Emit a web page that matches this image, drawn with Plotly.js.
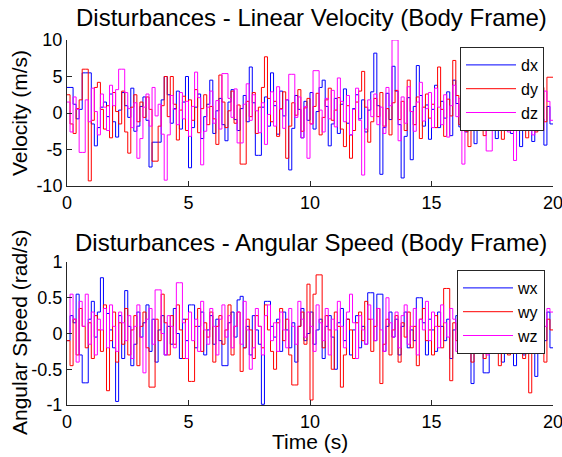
<!DOCTYPE html>
<html>
<head>
<meta charset="utf-8">
<script src="https://cdn.plot.ly/plotly-3.0.1.min.js"></script>
<style>html,body{margin:0;padding:0;background:#fff;}#plot{width:562px;height:457px;}</style>
</head>
<body>
<div id="plot"></div>
<script>
// sample period of the step disturbances (s)
const dt = 0.125;

// Linear velocity disturbances (m/s)
const dx = [3.5,3.5,1.2,-0.8,0.5,5.5,5.5,5.5,-1.5,-4.5,
-2.0,0.8,1.5,-0.5,2.6,-1.2,-3.3,0.4,2.8,1.0,
-0.6,3.4,-2.5,-1.8,0.9,2.2,-1.0,-7.4,-4.0,-4.0,
-4.0,1.8,5.0,2.5,-1.4,0.6,3.0,-2.2,1.5,5.0,
-7.5,-2.0,0.8,2.6,-3.5,-0.5,1.2,4.5,-2.8,0.3,
2.0,-1.6,-3.8,1.5,3.2,-0.9,-2.4,0.6,2.4,-1.2,
6.3,1.4,-5.8,-5.8,0.8,2.2,-1.8,5.5,1.0,-2.9,
3.0,-0.4,1.8,-7.8,-2.1,2.4,0.5,-3.4,1.6,-1.0,
2.8,-2.2,0.2,3.5,4.5,0.9,-4.5,-1.5,2.0,-2.8,
1.2,3.3,-1.4,-3.0,0.6,2.5,-0.8,1.8,-2.6,0.4,
2.9,8.2,1.0,-8.4,-2.0,2.7,-0.9,6.4,3.0,-1.6,
-8.9,-3.2,2.1,-6.4,0.9,6.5,2.4,-1.8,1.1,-3.6,
0.5,3.8,-2.0,1.6,-0.7,2.9,-3.1,4.5,1.3,-1.9,
3.1,-2.6,0.2,2.2,-4.2,1.4,-0.6,3.6,-2.3,0.8,
2.0,-3.5,-1.1,1.9,3.4,-0.4,-2.8,1.0,2.6,-4.6,
0.3,3.2,-1.7,-3.9,1.5,2.4,-0.8,-4.4,0.9,-1.5];

const dy = [2.5,-1.5,-2.8,0.6,1.8,6.0,6.0,-9.3,-1.0,3.5,
4.2,0.5,-2.2,1.0,-3.4,2.8,0.2,-1.5,3.0,-2.6,
-5.5,0.8,2.5,-1.2,1.5,-0.6,2.2,0.5,-6.6,-6.6,
-1.8,1.0,5.0,-0.5,5.0,1.2,-3.7,0.4,2.3,-2.4,
1.8,-1.0,3.2,-2.7,0.6,2.5,-1.6,0.9,-0.8,-4.3,
5.2,1.5,-2.0,0.3,3.0,-1.4,1.1,-7.0,-7.0,1.6,
-0.5,2.8,-2.8,0.8,3.5,7.7,2.0,-1.2,1.6,-3.2,
0.6,2.9,-6.2,-1.8,1.4,-0.3,3.2,-2.5,0.7,2.0,
-1.5,0.9,2.7,-3.0,-0.6,1.8,3.4,-1.0,0.4,2.1,
-2.2,-4.6,1.0,-6.2,-2.4,1.5,3.0,5.7,0.8,-4.0,
-1.2,2.0,-0.5,2.8,-1.8,0.6,-3.0,1.4,3.1,-0.9,
1.6,-2.4,4.5,0.2,-1.6,2.2,-3.5,0.8,2.6,-0.7,
1.2,-2.0,6.3,0.5,-3.2,1.9,-0.4,7.2,2.4,-1.6,
0.9,-2.5,-4.6,1.3,3.6,-0.9,2.0,-3.1,0.4,1.7,
-1.8,3.0,-0.6,-3.6,1.1,2.5,-2.0,0.6,3.3,-1.4,
0.3,-3.4,2.2,1.0,-2.6,0.7,3.5,-1.2,4.9,4.9];

const dz = [1.5,-2.6,2.2,0.5,-5.4,-5.4,1.8,-1.2,3.4,0.2,
-3.0,2.6,0.8,-2.4,3.8,1.0,3.2,6.0,6.0,2.8,
0.6,-2.0,1.4,-6.2,-3.5,0.8,2.6,-1.8,3.5,-0.4,
1.2,-2.9,-9.2,-3.0,2.4,0.5,-1.6,2.8,-0.8,1.6,
-3.2,0.9,5.6,2.1,-7.1,-2.5,0.8,3.0,-1.4,1.7,
-2.2,5.4,5.4,2.0,-0.6,3.3,-4.1,-4.1,1.2,4.0,
-1.0,2.5,0.3,-2.7,1.4,-4.3,-0.2,2.9,-1.8,3.6,
0.5,-2.1,1.8,5.3,5.3,-0.6,2.2,-3.4,0.9,-6.2,
-1.5,5.8,5.8,0.4,-2.6,2.0,-0.8,3.1,-1.9,4.8,
1.6,-1.2,2.4,-3.0,0.5,3.4,-1.0,-8.5,-2.2,1.8,
-0.5,2.6,-1.6,0.8,-2.8,3.5,1.0,10.0,10.0,-3.8,
2.2,-1.4,3.6,0.2,-2.5,1.5,4.2,-1.1,0.6,2.8,
-2.0,3.4,0.8,-1.6,2.5,-3.3,1.0,3.8,-0.5,2.0,
-7.0,-1.2,2.6,0.4,3.2,-2.2,1.4,-0.9,-5.2,-5.2,
1.8,3.5,-1.4,0.6,2.9,-2.6,0.9,-6.5,-1.0,2.4,
3.8,-0.8,1.2,-3.0,2.1,0.5,-2.4,3.0,1.6,-1.0];

// Angular speed disturbances (rad/s)
const wx = [-0.1,0.25,0.15,0.55,-0.3,-0.69,-0.69,0.2,0.45,-0.05,
0.3,0.78,0.35,0.28,0.05,-0.2,-0.95,0.25,-0.35,0.6,
0.1,-0.45,-0.15,0.3,-0.05,0.15,0.4,-0.25,0.2,-0.4,
0.05,0.25,-0.3,0.1,-0.15,0.35,0.0,-0.35,0.2,-0.1,
0.4,0.4,-0.2,0.1,0.3,-0.3,0.05,0.25,-0.15,0.2,
-0.1,-0.45,-0.45,0.15,0.3,-0.05,0.47,0.52,-0.2,0.1,
-0.3,0.25,0.05,-0.15,-0.99,0.45,0.45,0.1,-0.05,0.2,
-0.25,0.3,0.05,-0.2,0.15,-0.4,0.1,0.35,-0.1,0.0,
0.3,-0.15,0.05,0.2,-0.35,0.1,0.25,-0.05,-0.5,0.15,
0.35,-0.1,0.2,-0.3,0.05,0.25,-0.2,0.1,-0.15,0.57,
0.57,-0.1,0.55,0.55,-0.25,0.1,0.3,-0.05,0.2,-0.3,
0.1,0.3,-0.2,0.05,-0.1,0.5,0.5,0.15,-0.3,0.2,
0.05,-0.25,0.3,0.1,-0.1,0.2,-0.35,0.05,0.25,-0.15,
0.1,0.3,-0.05,-0.7,-0.2,0.15,0.0,-0.55,-0.55,0.2,
0.05,0.25,-0.2,-0.4,0.1,0.3,-0.1,-0.45,0.05,0.2,
-0.3,0.15,0.35,-0.05,-0.6,-0.15,0.2,-0.1,0.3,-0.2];

const wy = [-0.1,-0.45,0.2,-0.3,0.35,0.1,-0.2,0.15,-0.35,0.25,
0.05,-0.25,0.4,-0.8,-0.1,0.3,-0.4,0.15,-0.15,0.35,
-0.3,0.05,0.25,-0.45,0.1,0.3,-0.2,-0.75,-0.75,0.2,
-0.1,0.55,0.15,-0.3,0.25,-0.15,0.4,0.05,-0.35,0.2,
-0.67,-0.67,0.1,0.35,-0.25,0.15,-0.05,0.3,-0.4,0.1,
0.25,-0.15,0.05,0.4,-0.3,0.1,0.3,-0.53,-0.2,0.2,
0.05,-0.35,0.25,0.1,-0.2,0.4,0.05,-0.25,-0.5,0.15,
0.35,-0.1,0.2,-0.3,-0.72,-0.72,0.1,0.3,-0.15,0.69,
-0.93,0.55,0.82,0.82,-0.2,0.25,0.05,-0.5,0.3,0.1,
-0.75,-0.3,0.2,0.05,-0.35,0.15,0.3,-0.1,0.45,0.2,
-0.25,0.1,0.35,-0.7,-0.15,0.2,-0.3,0.05,0.25,-0.4,
0.15,-0.05,0.3,-0.2,0.1,-0.45,0.2,0.35,-0.1,0.05,
-0.3,0.25,0.1,-0.2,0.63,0.63,-0.66,0.15,-0.1,0.3,
-0.25,0.05,0.2,-0.4,0.1,-0.15,0.3,-0.35,0.15,0.25,
-0.1,0.35,-0.45,0.05,0.2,-0.3,0.1,0.3,-0.2,0.15,
-0.35,0.25,-0.83,0.1,-0.15,0.3,-0.05,-0.4,0.2,0.05];

const wz = [0.0,0.55,0.2,-0.4,0.45,0.1,0.55,-0.15,0.3,-0.3,
0.2,0.05,0.35,-0.2,0.4,0.1,-0.25,0.3,0.15,-0.1,
0.25,-0.35,0.1,0.4,-0.05,-0.55,0.2,0.35,-0.15,0.61,
0.61,0.0,-0.3,0.25,0.1,-0.2,0.71,0.71,0.15,-0.35,
0.3,-0.1,0.2,-0.25,0.45,0.05,-0.15,0.35,0.1,-0.3,
0.2,0.4,-0.05,0.25,-0.2,0.1,0.3,-0.15,0.45,0.05,
-0.5,-0.2,0.35,0.1,-0.3,0.25,0.4,-0.1,0.15,-0.25,
0.3,0.05,-0.2,0.35,0.1,-0.15,0.45,0.2,-0.05,0.3,
0.1,-0.25,0.4,0.15,-0.1,0.35,-0.3,0.2,0.05,0.45,
0.1,-0.2,0.3,0.55,0.15,-0.35,0.25,0.05,-0.15,0.4,
0.2,-0.1,0.35,0.05,-0.25,0.5,0.15,-0.05,0.3,-0.2,
0.25,0.4,-0.15,0.1,0.35,-0.3,0.2,0.05,0.45,-0.1,
0.3,0.1,-0.2,0.4,0.15,-0.05,0.35,0.2,-0.25,0.1,
0.3,0.05,-0.15,0.25,0.45,-0.1,0.2,0.35,-0.3,0.1,
0.25,-0.05,0.4,0.15,-0.2,0.3,0.05,0.2,-0.15,0.35,
0.1,-0.25,0.3,0.15,-0.05,0.25,-0.2,0.1,0.35,0.3];

// tick labels
const xTicks = [0,5,10,15,20];
const xTickText = ["0","5","10","15","20"];
const y1Ticks = [-10,-5,0,5,10];
const y1TickText = ["-10","-5","0","5","10"];
const y2Ticks = [-1,-0.5,0,0.5,1];
const y2TickText = ["-1","-0.5","0","0.5","1"];

const names1 = ["dx","dy","dz"];
const names2 = ["wx","wy","wz"];
const colors = ["#0000ff","#ff0000","#ff00ff"];

function stepXY(vals){
  const x = [], y = [];
  for (let i = 0; i < vals.length; i++){ x.push(i*dt); y.push(vals[i]); }
  x.push(vals.length*dt); y.push(vals[vals.length-1]);
  return {x, y};
}

const traces = [];
[dx,dy,dz].forEach((v,k)=>{
  const s = stepXY(v);
  traces.push({x:s.x, y:s.y, type:'scatter', mode:'lines', name:names1[k],
    line:{color:colors[k], width:1, shape:'hv'}, xaxis:'x', yaxis:'y', legend:'legend'});
});
[wx,wy,wz].forEach((v,k)=>{
  const s = stepXY(v);
  traces.push({x:s.x, y:s.y, type:'scatter', mode:'lines', name:names2[k],
    line:{color:colors[k], width:1, shape:'hv'}, xaxis:'x2', yaxis:'y2', legend:'legend2'});
});

const W = 562, H = 457;
const fx = p => p/W, fy = p => 1 - p/H;
const FAM = 'Liberation Sans, Arial, sans-serif';
const font = {family:FAM, size:15, color:'#000'};
const axisCommon = {
  showline:true, linecolor:'#262626', linewidth:1, ticks:'inside', ticklen:5, tickcolor:'#262626',
  showgrid:false, zeroline:false, mirror:false, tickfont:{family:FAM, size:18, color:'#000'},
  ticklabeloverflow:'allow'
};

const legendCommon = {xanchor:'right', yanchor:'top', bgcolor:'#fff', bordercolor:'#262626', borderwidth:1,
  font:{family:FAM, size:16, color:'#000'}, tracegroupgap:0, itemwidth:50};

const layout = {
  width:W, height:H, margin:{l:0,r:0,t:0,b:0},
  paper_bgcolor:'#fff', plot_bgcolor:'rgba(0,0,0,0)', font:font, showlegend:true,
  xaxis: Object.assign({}, axisCommon, {domain:[fx(67), fx(553)], range:[0,20], tickvals:xTicks, ticktext:xTickText, anchor:'y'}),
  yaxis: Object.assign({}, axisCommon, {domain:[fy(186), fy(40)], range:[-10,10], tickvals:y1Ticks, ticktext:y1TickText, anchor:'x'}),
  xaxis2: Object.assign({}, axisCommon, {domain:[fx(67), fx(553)], range:[0,20], tickvals:xTicks, ticktext:xTickText, anchor:'y2'}),
  yaxis2: Object.assign({}, axisCommon, {domain:[fy(405), fy(262)], range:[-1,1], tickvals:y2Ticks, ticktext:y2TickText, anchor:'x2'}),
  legend: Object.assign({}, legendCommon, {x:fx(544), y:fy(47)}),
  legend2: Object.assign({}, legendCommon, {x:fx(545), y:fy(270)}),
  annotations:[
    {text:'Disturbances - Linear Velocity (Body Frame)', x:fx(311), y:fy(18), xref:'paper', yref:'paper',
      showarrow:false, xanchor:'center', yanchor:'middle', font:{family:FAM, size:24, color:'#000'}},
    {text:'Disturbances - Angular Speed (Body Frame)', x:fx(311), y:fy(242), xref:'paper', yref:'paper',
      showarrow:false, xanchor:'center', yanchor:'middle', font:{family:FAM, size:24, color:'#000'}},
    {text:'Velocity (m/s)', x:fx(19), y:fy(113), xref:'paper', yref:'paper', textangle:-90,
      showarrow:false, xanchor:'center', yanchor:'middle', font:{family:FAM, size:21, color:'#000'}},
    {text:'Angular Speed (rad/s)', x:fx(19), y:fy(333), xref:'paper', yref:'paper', textangle:-90,
      showarrow:false, xanchor:'center', yanchor:'middle', font:{family:FAM, size:21, color:'#000'}},
    {text:'Time (s)', x:fx(310), y:fy(441), xref:'paper', yref:'paper',
      showarrow:false, xanchor:'center', yanchor:'middle', font:{family:FAM, size:21, color:'#000'}}
  ]
};

Plotly.newPlot('plot', traces, layout, {staticPlot:true, displayModeBar:false});
</script>
</body>
</html>
